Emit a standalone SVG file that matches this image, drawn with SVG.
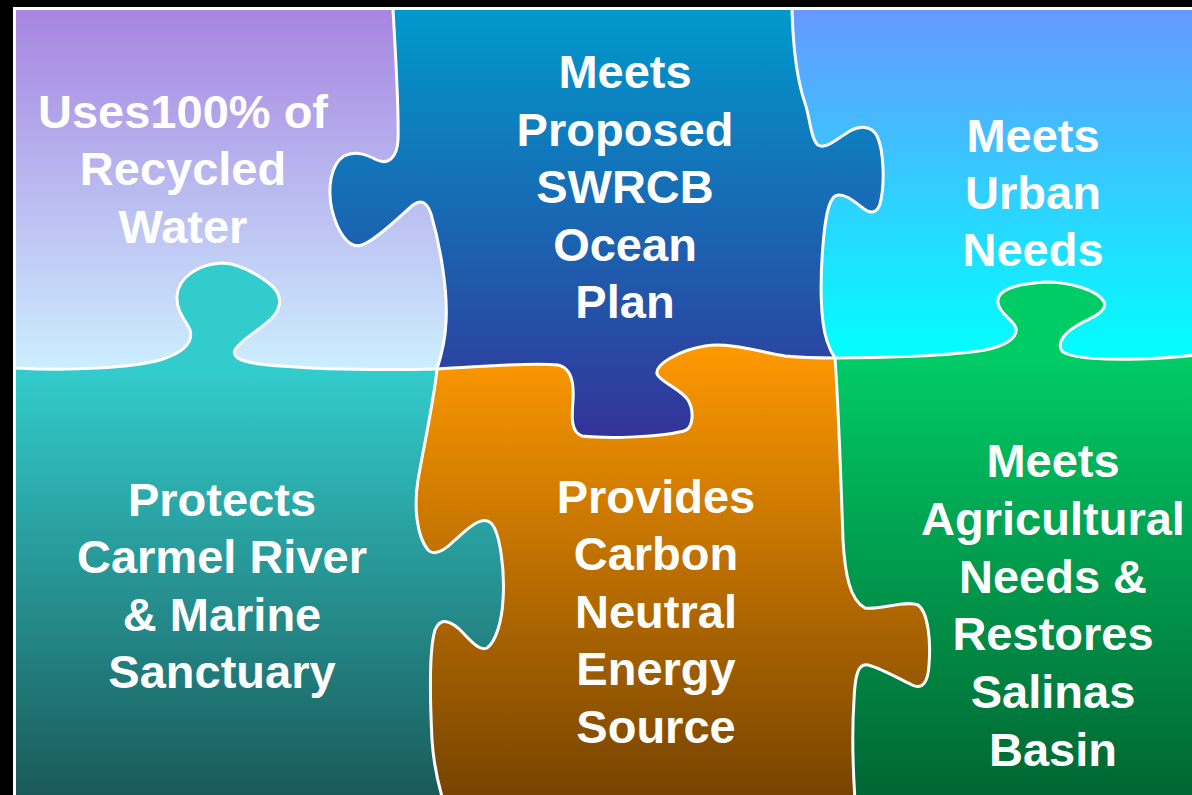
<svg xmlns="http://www.w3.org/2000/svg" width="1192" height="795" viewBox="0 0 1192 795">
<style>
.lbl{font-family:"Liberation Sans",Arial,sans-serif;font-weight:bold;font-size:47px;fill:#fff;text-anchor:middle}
.edge{fill:none;stroke:#fff;stroke-width:3;stroke-linejoin:round}
</style>
<defs>
<linearGradient id="gTL" gradientUnits="userSpaceOnUse" x1="0" y1="10" x2="0" y2="369"><stop offset="0" stop-color="#A785E0"/><stop offset="1" stop-color="#CCEEFF"/></linearGradient>
<linearGradient id="gTM" gradientUnits="userSpaceOnUse" x1="0" y1="10" x2="0" y2="438"><stop offset="0" stop-color="#0099CC"/><stop offset="1" stop-color="#333399"/></linearGradient>
<linearGradient id="gTR" gradientUnits="userSpaceOnUse" x1="0" y1="10" x2="0" y2="358"><stop offset="0" stop-color="#6699FF"/><stop offset="1" stop-color="#00FFFF"/></linearGradient>
<linearGradient id="gBL" gradientUnits="userSpaceOnUse" x1="0" y1="369" x2="0" y2="795"><stop offset="0" stop-color="#33CCCC"/><stop offset="1" stop-color="#1A5A5A"/></linearGradient>
<linearGradient id="gBM" gradientUnits="userSpaceOnUse" x1="0" y1="345" x2="0" y2="795"><stop offset="0" stop-color="#FF9900"/><stop offset="1" stop-color="#774400"/></linearGradient>
<linearGradient id="gBR" gradientUnits="userSpaceOnUse" x1="0" y1="355" x2="0" y2="795"><stop offset="0" stop-color="#00CC66"/><stop offset="1" stop-color="#006633"/></linearGradient>
</defs>
<rect x="0" y="0" width="1192" height="795" fill="#000"/>
<rect x="13" y="7" width="1179" height="3" fill="#fff"/>
<rect x="13" y="7" width="3" height="788" fill="#fff"/>

<g id="piece-br">
<rect x="16" y="10" width="1180" height="790" fill="url(#gBR)"/>
</g>
<g id="piece-tl">
<path fill="url(#gTL)" d="M16,10 L393,10 C396,60 399,110 398,140 C397,158 388,165 377,160 C367,155 356,150 344,156 C331,164 327,188 332,210 C337,230 348,250 362,245 C376,240 398,218 413,205 C421,199 427,202 431,214 C440,245 448,290 446,322 C445,345 440,360 437,369 L437,800 L16,800 Z"/>
</g>
<g id="piece-tm">
<path fill="url(#gTM)" d="M393,10 C396,60 399,110 398,140 C397,158 388,165 377,160 C367,155 356,150 344,156 C331,164 327,188 332,210 C337,230 348,250 362,245 C376,240 398,218 413,205 C421,199 427,202 431,214 C440,245 448,290 446,322 C445,345 440,360 437,369 C480,367 530,362 558,365 C572,368 574,385 573,400 C572,415 570,432 582,436 C610,439 660,437 684,431 C694,428 694,410 688,400 C680,388 660,382 657,374 C655,364 680,350 705,346 C730,342 760,352 785,356 C805,358 820,358 835,358 L900,358 L900,10 Z"/>
</g>
<g id="piece-tr">
<path fill="url(#gTR)" d="M792,10 C793,45 797,80 805,103 C810,118 811,140 818,145 C826,150 838,138 850,131 C860,125 872,126 877,136 C884,150 885,185 880,204 C877,213 871,214 864,209 C855,202 844,192 835,196 C828,201 825,220 823,245 C820,280 820,320 827,341 C830,350 833,355 835,358 C880,358 950,356 985,350 C1005,346 1018,338 1016,328 C1014,320 1000,315 998,303 C996,290 1015,284 1045,282 C1070,282 1098,290 1104,302 C1108,312 1090,318 1078,325 C1066,332 1056,342 1062,351 C1070,359 1110,360 1140,359 C1165,358 1180,357 1195,355 L1195,10 Z"/>
</g>
<g id="piece-bm">
<path fill="url(#gBM)" d="M437,369 C480,367 530,362 558,365 C572,368 574,385 573,400 C572,415 570,432 582,436 C610,439 660,437 684,431 C694,428 694,410 688,400 C680,388 660,382 657,374 C655,364 680,350 705,346 C730,342 760,352 785,356 C805,358 820,358 835,358 C838,400 841,480 843,540 C845,575 850,600 865,608 C880,610 905,600 918,605 C928,612 931,640 929,665 C928,683 922,690 912,685 C898,678 880,668 868,665 C858,663 855,675 854,700 C852,730 853,770 855,800 L400,800 L400,369 Z"/>
</g>
<g id="piece-bl">
<path fill="url(#gBL)" d="M16,368 C70,371 130,368 160,360 C180,354 194,344 190,330 C186,320 176,312 177,296 C178,278 198,264 222,263 C240,263 258,275 270,284 C282,294 283,306 272,318 C260,330 240,340 235,350 C231,360 250,364 280,366 C330,370 390,370 437,369 C434,400 425,440 418,480 C414,505 416,535 428,550 C435,557 445,550 455,540 C468,528 482,515 491,523 C500,532 505,570 503,600 C502,620 496,642 487,648 C478,652 468,637 458,628 C448,620 440,618 435,630 C429,650 430,700 432,740 C434,770 440,790 443,800 L16,800 Z"/>
</g>

<g id="outlines">
<path class="edge" d="M393,10 C396,60 399,110 398,140 C397,158 388,165 377,160 C367,155 356,150 344,156 C331,164 327,188 332,210 C337,230 348,250 362,245 C376,240 398,218 413,205 C421,199 427,202 431,214 C440,245 448,290 446,322 C445,345 440,360 437,369"/>
<path class="edge" d="M792,10 C793,45 797,80 805,103 C810,118 811,140 818,145 C826,150 838,138 850,131 C860,125 872,126 877,136 C884,150 885,185 880,204 C877,213 871,214 864,209 C855,202 844,192 835,196 C828,201 825,220 823,245 C820,280 820,320 827,341 C830,350 833,355 835,358"/>
<path class="edge" d="M16,368 C70,371 130,368 160,360 C180,354 194,344 190,330 C186,320 176,312 177,296 C178,278 198,264 222,263 C240,263 258,275 270,284 C282,294 283,306 272,318 C260,330 240,340 235,350 C231,360 250,364 280,366 C330,370 390,370 437,369"/>
<path class="edge" d="M437,369 C480,367 530,362 558,365 C572,368 574,385 573,400 C572,415 570,432 582,436 C610,439 660,437 684,431 C694,428 694,410 688,400 C680,388 660,382 657,374 C655,364 680,350 705,346 C730,342 760,352 785,356 C805,358 820,358 835,358"/>
<path class="edge" d="M835,358 C880,358 950,356 985,350 C1005,346 1018,338 1016,328 C1014,320 1000,315 998,303 C996,290 1015,284 1045,282 C1070,282 1098,290 1104,302 C1108,312 1090,318 1078,325 C1066,332 1056,342 1062,351 C1070,359 1110,360 1140,359 C1165,358 1180,357 1195,355"/>
<path class="edge" d="M437,369 C434,400 425,440 418,480 C414,505 416,535 428,550 C435,557 445,550 455,540 C468,528 482,515 491,523 C500,532 505,570 503,600 C502,620 496,642 487,648 C478,652 468,637 458,628 C448,620 440,618 435,630 C429,650 430,700 432,740 C434,770 440,790 443,800"/>
<path class="edge" d="M835,358 C838,400 841,480 843,540 C845,575 850,600 865,608 C880,610 905,600 918,605 C928,612 931,640 929,665 C928,683 922,690 912,685 C898,678 880,668 868,665 C858,663 855,675 854,700 C852,730 853,770 855,800"/>
</g>

<g id="label-tl">
<text class="lbl" x="183" y="128">Uses100% of</text>
<text class="lbl" x="183" y="185">Recycled</text>
<text class="lbl" x="183" y="243">Water</text>
</g>
<g id="label-tm">
<text class="lbl" x="625" y="88">Meets</text>
<text class="lbl" x="625" y="146">Proposed</text>
<text class="lbl" x="625" y="203">SWRCB</text>
<text class="lbl" x="625" y="261">Ocean</text>
<text class="lbl" x="625" y="318">Plan</text>
</g>
<g id="label-tr">
<text class="lbl" x="1033" y="152">Meets</text>
<text class="lbl" x="1033" y="209">Urban</text>
<text class="lbl" x="1033" y="266">Needs</text>
</g>
<g id="label-bl">
<text class="lbl" x="222" y="516">Protects</text>
<text class="lbl" x="222" y="573">Carmel River</text>
<text class="lbl" x="222" y="631">&amp; Marine</text>
<text class="lbl" x="222" y="688">Sanctuary</text>
</g>
<g id="label-bm">
<text class="lbl" x="656" y="513">Provides</text>
<text class="lbl" x="656" y="570">Carbon</text>
<text class="lbl" x="656" y="628">Neutral</text>
<text class="lbl" x="656" y="685">Energy</text>
<text class="lbl" x="656" y="743">Source</text>
</g>
<g id="label-br">
<text class="lbl" x="1053" y="477">Meets</text>
<text class="lbl" x="1053" y="535">Agricultural</text>
<text class="lbl" x="1053" y="593">Needs &amp;</text>
<text class="lbl" x="1053" y="650">Restores</text>
<text class="lbl" x="1053" y="708">Salinas</text>
<text class="lbl" x="1053" y="766">Basin</text>
</g>
</svg>
